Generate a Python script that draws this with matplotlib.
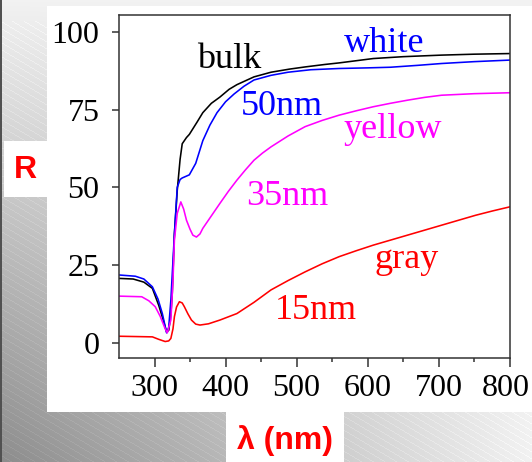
import numpy as np
import matplotlib
matplotlib.use('Agg')
import matplotlib.pyplot as plt
from matplotlib.patches import Rectangle
from matplotlib.transforms import ScaledTranslation

# curve data (wavelength nm, reflectance %)
bulk_x = [250, 270, 285, 297, 306, 312, 317, 320, 323, 325, 328, 332, 336, 339, 345, 349, 360, 368,
          380, 392, 405, 416, 440, 464, 490, 512, 540, 560, 608, 650, 704, 750, 800]
bulk_y = [20.7, 20.5, 19.5, 17.5, 12, 7.5, 3.5, 4, 9, 16, 35, 49, 59, 64, 66, 67, 71, 74,
          77, 79, 81.5, 83, 85.5, 87, 88, 88.7, 89.5, 90, 91.4, 92, 92.5, 92.8, 93]

nm50_x = [250, 273, 285, 297, 305, 311, 317, 320, 323, 328, 332, 336, 339, 349, 358, 368, 378, 388,
          400, 412, 426, 440, 464, 488, 520, 560, 600, 632, 670, 704, 750, 800]
nm50_y = [21.8, 21.4, 20.5, 18, 14, 9.4, 3.2, 5, 13.7, 35, 50, 52.5, 53, 54, 57.7, 65, 70, 74,
          77.5, 80, 82.5, 84.5, 86, 87, 87.8, 88.2, 88.4, 88.6, 89.2, 89.8, 90.4, 90.9]

nm35_x = [250, 282, 292, 301, 308, 315, 318, 323, 326, 328, 332, 337, 341, 345, 350, 354, 359, 364,
          368, 380, 392, 404, 416, 428, 440, 452, 464, 488, 512, 536, 560, 584, 608, 632, 656, 680,
          704, 750, 800]
nm35_y = [15, 14.8, 13.5, 11.6, 8.5, 4.5, 3.2, 7.3, 20, 33, 41.6, 45.3, 43, 39.4, 36.5, 34.6, 34, 35,
          36.8, 40.8, 44.8, 48.7, 52.3, 55.6, 58.7, 61, 63, 66.5, 69.5, 71.5, 73.2, 74.6, 75.9, 77, 78, 78.9,
          79.6, 80.1, 80.4]

nm15_x = [250, 297, 306, 315, 320, 323, 326, 328, 331, 335, 339, 342, 347, 352, 358, 364, 376, 392,
          416, 440, 464, 488, 512, 536, 560, 584, 608, 632, 656, 680, 704, 728, 752, 776, 800]
nm15_y = [2.1, 1.9, 1.1, 0.4, 0.6, 1.4, 4.5, 8.4, 11.5, 13.2, 12.8, 11.6, 9.3, 7.3, 6, 5.7, 6.1, 7.3,
          9.4, 13, 17, 20, 22.8, 25.4, 27.7, 29.6, 31.4, 33, 34.6, 36.2, 37.8, 39.4, 41, 42.4, 43.7]

x_ticks = [300, 400, 500, 600, 700, 800]
y_ticks = [0, 25, 50, 75, 100]

W, H = 532, 462
fig = plt.figure(figsize=(W / 100, H / 100), dpi=100)

# slide background: grey gradient with faint diagonal stripes
bg = fig.add_axes([0, 0, 1, 1])
yy, xx = np.mgrid[0:H, 0:W]
g = 0.95 - 0.4 * (yy / H) * (1 - xx / W)
g = g + 0.035 * ((((xx * 0.6 - yy) % 7) < 1.0) & (yy > 20))
g[:, :2] = 0.32
g = np.clip(g, 0, 1)
bg.imshow(np.dstack([g, g, g]), extent=[0, W, H, 0], aspect='auto')
bg.set_xlim(0, W)
bg.set_ylim(H, 0)
bg.axis('off')
bg.add_patch(Rectangle((47, 5.7), W - 47, 412 - 5.7, color='white', lw=0))
bg.add_patch(Rectangle((4, 141), 44, 56, color='white', lw=0))
bg.add_patch(Rectangle((226, 412), 118, 50, color='white', lw=0))
bg.text(25.5, 170, 'R', color='#ff0000', fontsize=23, fontweight='bold',
        family='Liberation Sans', ha='center', va='center')
bg.text(285, 441, 'λ (nm)', color='#ff0000', fontsize=23, fontweight='bold',
        family='Liberation Sans', ha='center', va='center')

ax = fig.add_axes([119 / W, 1 - 357.7 / H, (509.7 - 119) / W, (357.7 - 15) / H])
lw = 1.15
ax.plot(bulk_x, bulk_y, color='black', lw=lw)
ax.plot(nm50_x, nm50_y, color='#0000ff', lw=lw)
ax.plot(nm35_x, nm35_y, color='#ff00ff', lw=lw)
ax.plot(nm15_x, nm15_y, color='#ff0000', lw=lw)

ax.set_xlim(250, 800)
ax.set_ylim(-4.8, 105.4)
ax.set_xticks(x_ticks)
ax.set_xticks([350, 450, 550, 650, 750], minor=True)
ax.set_yticks(y_ticks)
for s in ax.spines.values():
    s.set_linewidth(1.1)
    s.set_color('#333333')
ax.tick_params(axis='y', direction='out', length=5, width=1.1, pad=9, color='#333333')
ax.tick_params(axis='x', which='major', direction='out', length=6.5, width=1.1, pad=5, color='#333333')
ax.tick_params(axis='x', which='minor', direction='out', length=3, width=1.1, color='#333333')
for lab in ax.get_xticklabels() + ax.get_yticklabels():
    lab.set_family('Liberation Serif')
    lab.set_fontsize(23)
# nudge the last label so it stays inside the picture
last = ax.get_xticklabels()[-1]
last.set_transform(last.get_transform() + ScaledTranslation(-4 / 100, 0, fig.dpi_scale_trans))

lab_kw = dict(family='Liberation Serif', fontsize=26, ha='left', va='baseline')
ax.text(360, 88.2, 'bulk', color='black', **lab_kw)
ax.text(566, 93.6, 'white', color='#0000ff', **lab_kw)
ax.text(421, 73.2, '50nm', color='#0000ff', **lab_kw)
ax.text(566, 66, 'yellow', color='#ff00ff', **lab_kw)
ax.text(429, 44.3, '35nm', color='#ff00ff', **lab_kw)
ax.text(609, 23.9, 'gray', color='#ff0000', **lab_kw)
ax.text(469, 7.8, '15nm', color='#ff0000', **lab_kw)

fig.savefig('out.png', dpi=100)
